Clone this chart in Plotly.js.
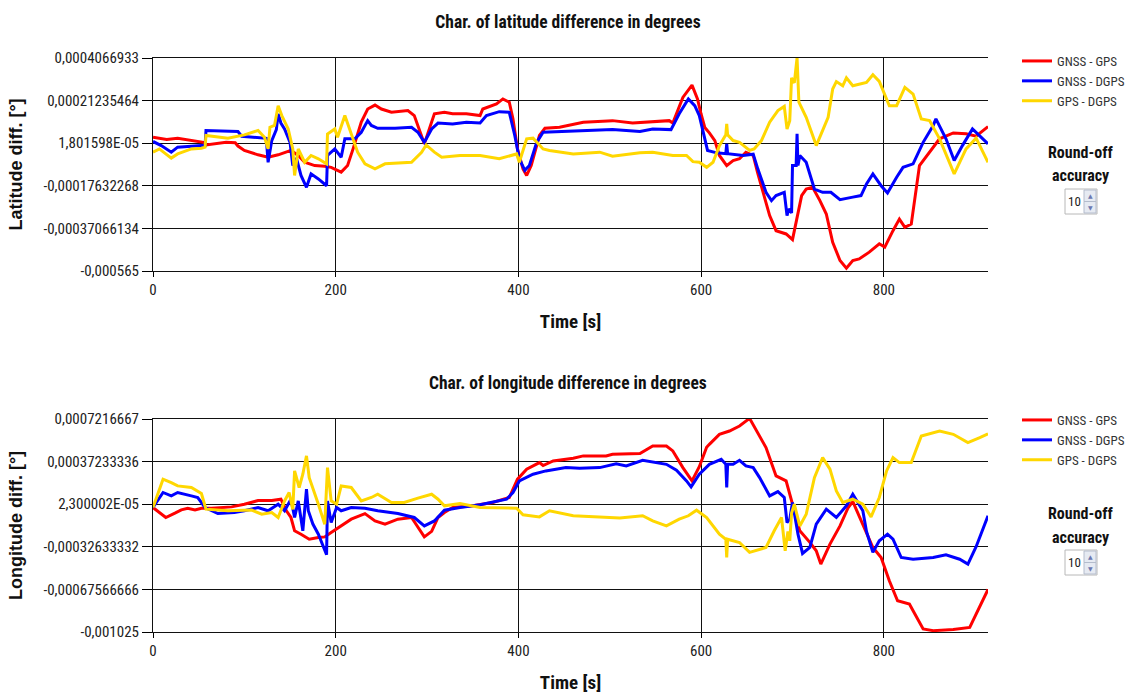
<!DOCTYPE html>
<html>
<head>
<meta charset="utf-8">
<script src="https://cdn.plot.ly/plotly-3.0.1.min.js"></script>
<style>html,body{margin:0;padding:0;background:#fff;}#chart{width:1132px;height:698px;}</style>
</head>
<body>
<div id="chart"></div>
<script>
// ---------- DATA (time in s, differences in degrees) ----------
const seriesNames = ["GNSS - GPS", "GNSS - DGPS", "GPS - DGPS"];
const seriesColors = ["#ff0000", "#0000ff", "#ffd700"];

// Latitude chart tick values / labels
const latTickVals = [4.066933e-4, 2.1235464e-4, 1.801598e-5, -1.7632268e-4, -3.7066134e-4, -5.65e-4];
const latTickText = ["0,0004066933", "0,00021235464", "1,801598E-05", "-0,00017632268", "-0,00037066134", "-0,000565"];
// Longitude chart tick values / labels
const lonTickVals = [7.216667e-4, 3.7233336e-4, 2.300002e-5, -3.2633332e-4, -6.7566666e-4, -1.025e-3];
const lonTickText = ["0,0007216667", "0,00037233336", "2,300002E-05", "-0,00032633332", "-0,00067566666", "-0,001025"];
const timeTicks = [0, 200, 400, 600, 800];

// Latitude: GNSS - GPS
const latGnssGpsT = [0,7,15,27,42,55,58,70,80,90,93,100,115,126,137,151,159,166,177,188,195,206,213,219,228,235,243,250,261,279,286,297,308,319,328,343,358,361,376,383,390,394,399,405,409,414,423,429,445,471,503,525,547,565,569,580,590,596,600,604,609,615,620,628,635,642,649,657,662,668,675,682,693,700,704,710,715,722,730,737,744,752,759,766,773,784,795,801,810,817,823,830,839,854,861,876,890,901,914];
const latGnssGpsV = [0.45e-4,0.40e-4,0.35e-4,0.41e-4,0.30e-4,0.22e-4,0.10e-4,0.15e-4,0.22e-4,0.20e-4,0.05e-4,-0.15e-4,-0.35e-4,-0.46e-4,-0.35e-4,-0.15e-4,-0.38e-4,-0.69e-4,-0.84e-4,-0.87e-4,-0.92e-4,-1.14e-4,-0.84e-4,-0.08e-4,1.14e-4,1.74e-4,1.92e-4,1.74e-4,1.59e-4,1.67e-4,1.44e-4,0.15e-4,1.52e-4,1.59e-4,1.52e-4,1.52e-4,1.44e-4,1.74e-4,1.97e-4,2.20e-4,2.05e-4,1.29e-4,-0.08e-4,-0.99e-4,-1.29e-4,-0.84e-4,0.53e-4,0.86e-4,0.91e-4,1.14e-4,1.21e-4,1.10e-4,1.17e-4,1.21e-4,1.10e-4,2.27e-4,2.83e-4,2.20e-4,1.50e-4,0.90e-4,0.65e-4,0.30e-4,-0.38e-4,-0.84e-4,-0.61e-4,-0.53e-4,-0.23e-4,-0.38e-4,-1.20e-4,-2.06e-4,-3.12e-4,-3.81e-4,-3.96e-4,-4.22e-4,-3.43e-4,-2.21e-4,-1.91e-4,-1.83e-4,-2.44e-4,-3.05e-4,-4.34e-4,-5.17e-4,-5.52e-4,-5.17e-4,-5.10e-4,-4.79e-4,-4.41e-4,-4.56e-4,-3.81e-4,-3.28e-4,-3.66e-4,-3.51e-4,-0.84e-4,0.00e-4,0.38e-4,0.65e-4,0.61e-4,0.50e-4,0.94e-4];

// Latitude: GNSS - DGPS
const latGnssDgpsT = [0,9,20,27,53,57,58,93,97,115,124,126,130,135,137,140,144,150,153,157,162,168,173,181,190,191,199,206,210,221,228,235,239,246,265,283,290,297,305,312,328,343,358,365,379,390,396,401,407,412,420,427,445,471,503,533,547,567,576,586,593,598,604,607,617,627,628,629,646,657,662,671,677,682,691,694,696,699,700,704,705,706,708,715,724,733,742,752,766,775,781,788,797,804,814,821,832,843,854,857,868,877,886,897,914];
const latGnssDgpsV = [0.26e-4,0.07e-4,-0.23e-4,0.00e-4,0.07e-4,0.07e-4,0.76e-4,0.71e-4,0.50e-4,0.45e-4,0.40e-4,-0.69e-4,0.30e-4,0.80e-4,1.52e-4,1.10e-4,0.83e-4,0.22e-4,-0.84e-4,-0.50e-4,-1.29e-4,-1.83e-4,-1.22e-4,-1.45e-4,-1.76e-4,-0.38e-4,-0.08e-4,-0.46e-4,0.38e-4,0.38e-4,0.68e-4,1.21e-4,0.99e-4,0.86e-4,0.86e-4,0.91e-4,0.68e-4,0.22e-4,0.83e-4,1.10e-4,1.06e-4,1.14e-4,1.10e-4,1.44e-4,1.62e-4,1.59e-4,0.53e-4,-0.53e-4,-1.06e-4,-0.84e-4,0.22e-4,0.68e-4,0.71e-4,0.76e-4,0.80e-4,0.71e-4,0.83e-4,0.80e-4,1.52e-4,2.20e-4,1.89e-4,1.44e-4,0.45e-4,-0.15e-4,-0.26e-4,-0.30e-4,0.15e-4,-0.30e-4,-0.38e-4,-0.32e-4,-0.99e-4,-2.06e-4,-2.44e-4,-2.21e-4,-2.06e-4,-3.12e-4,-2.82e-4,-3.00e-4,-0.84e-4,-0.84e-4,0.61e-4,-0.84e-4,-0.38e-4,-0.69e-4,-1.91e-4,-2.06e-4,-2.06e-4,-2.40e-4,-2.28e-4,-2.21e-4,-1.68e-4,-1.22e-4,-1.76e-4,-2.09e-4,-1.37e-4,-0.92e-4,-0.76e-4,0.22e-4,0.99e-4,1.29e-4,0.38e-4,-0.61e-4,0.07e-4,0.83e-4,0.15e-4];

// Latitude: GPS - DGPS
const latGpsDgpsT = [0,7,20,27,42,53,57,58,82,100,115,122,126,128,133,137,141,148,153,155,159,166,173,181,190,191,199,202,210,215,224,232,243,254,283,294,299,308,316,336,358,379,398,401,409,416,427,434,460,489,503,533,547,569,584,591,598,606,613,620,627,628,629,635,642,653,658,666,675,684,691,694,697,699,702,705,707,715,726,739,744,748,755,759,766,781,788,795,806,814,823,832,841,850,861,877,890,901,914];
const latGpsDgpsV = [-0.23e-4,-0.08e-4,-0.50e-4,-0.31e-4,-0.08e-4,-0.05e-4,0.00e-4,0.53e-4,0.41e-4,0.56e-4,0.76e-4,0.45e-4,-0.08e-4,0.91e-4,0.99e-4,1.89e-4,1.44e-4,0.83e-4,-0.08e-4,-1.29e-4,-0.08e-4,-0.69e-4,-0.38e-4,-0.53e-4,-0.76e-4,0.60e-4,0.83e-4,0.45e-4,1.44e-4,0.83e-4,-0.23e-4,-0.76e-4,-0.99e-4,-0.76e-4,-0.69e-4,-0.23e-4,0.10e-4,-0.23e-4,-0.46e-4,-0.38e-4,-0.38e-4,-0.53e-4,-0.31e-4,-0.69e-4,0.38e-4,0.41e-4,-0.08e-4,-0.15e-4,-0.31e-4,-0.23e-4,-0.41e-4,-0.26e-4,-0.23e-4,-0.38e-4,-0.38e-4,-0.66e-4,-0.69e-4,-0.92e-4,-0.69e-4,0.07e-4,0.56e-4,1.06e-4,0.56e-4,0.30e-4,0.22e-4,-0.15e-4,-0.08e-4,0.30e-4,1.14e-4,1.67e-4,1.86e-4,0.83e-4,1.21e-4,3.16e-4,2.93e-4,4.07e-4,2.05e-4,1.36e-4,0.07e-4,1.36e-4,2.65e-4,2.99e-4,2.80e-4,3.16e-4,2.80e-4,2.95e-4,3.30e-4,3.00e-4,1.89e-4,1.89e-4,2.73e-4,2.42e-4,1.29e-4,1.21e-4,0.38e-4,-1.22e-4,-0.08e-4,0.41e-4,-0.69e-4];

// Longitude: GNSS - GPS
const lonGnssGpsT = [0,7,14,24,31,38,46,53,64,86,100,115,130,140,146,151,155,162,171,181,188,195,206,217,232,243,254,268,283,290,297,305,312,319,328,350,372,390,399,409,423,427,438,460,471,496,503,533,547,562,569,580,590,598,606,609,620,631,642,653,660,671,682,693,700,708,719,726,731,741,752,761,766,777,788,797,806,815,828,832,843,854,876,894,914];
const lonGnssGpsV = [-0.04e-4,-0.45e-4,-0.86e-4,-0.50e-4,-0.23e-4,-0.10e-4,-0.25e-4,-0.10e-4,-0.10e-4,0.01e-4,0.23e-4,0.53e-4,0.53e-4,0.64e-4,-0.31e-4,-0.86e-4,-1.95e-4,-2.23e-4,-2.64e-4,-2.50e-4,-2.45e-4,-2.09e-4,-1.55e-4,-1.00e-4,-0.54e-4,-1.14e-4,-1.41e-4,-1.00e-4,-0.86e-4,-1.68e-4,-2.45e-4,-2.00e-4,-0.86e-4,-0.45e-4,-0.04e-4,0.10e-4,0.37e-4,0.78e-4,2.28e-4,3.10e-4,3.64e-4,3.40e-4,3.78e-4,4.00e-4,4.19e-4,4.19e-4,4.33e-4,4.38e-4,5.00e-4,5.00e-4,4.60e-4,3.23e-4,2.14e-4,3.30e-4,4.90e-4,5.14e-4,5.96e-4,6.23e-4,6.64e-4,7.27e-4,6.37e-4,4.87e-4,2.55e-4,2.14e-4,0.23e-4,-1.95e-4,-2.90e-4,-3.59e-4,-4.68e-4,-3.04e-4,-1.55e-4,-0.04e-4,0.45e-4,-1.41e-4,-3.32e-4,-4.14e-4,-6.05e-4,-7.69e-4,-7.96e-4,-8.50e-4,-10.00e-4,-10.14e-4,-10.05e-4,-9.87e-4,-6.76e-4];

// Longitude: GNSS - DGPS
const lonGnssDgpsT = [0,11,20,27,42,49,57,71,89,100,115,126,137,144,151,155,159,164,168,170,175,181,190,191,195,201,206,217,232,246,268,286,297,308,319,336,358,387,394,401,416,430,452,467,489,507,518,536,562,573,584,589,598,609,622,627,628,629,635,642,649,657,664,675,684,691,694,697,700,704,706,711,719,726,737,748,759,766,777,781,788,795,804,810,819,832,854,868,883,892,901,914];
const lonGnssDgpsV = [-0.04e-4,1.19e-4,0.91e-4,1.19e-4,0.91e-4,0.78e-4,-0.04e-4,-0.54e-4,-0.45e-4,-0.31e-4,-0.04e-4,-0.31e-4,0.23e-4,-0.31e-4,0.64e-4,-0.86e-4,0.50e-4,-1.95e-4,1.46e-4,-0.31e-4,-1.40e-4,-2.23e-4,-3.92e-4,0.50e-4,-1.27e-4,-0.04e-4,-0.31e-4,-0.04e-4,-0.10e-4,-0.31e-4,-0.54e-4,-0.86e-4,-1.55e-4,-1.14e-4,-0.26e-4,-0.04e-4,0.18e-4,0.64e-4,1.19e-4,2.14e-4,2.69e-4,2.96e-4,3.23e-4,3.18e-4,3.23e-4,3.55e-4,3.37e-4,3.83e-4,3.50e-4,3.01e-4,2.14e-4,1.65e-4,2.69e-4,3.50e-4,3.91e-4,3.50e-4,1.60e-4,3.50e-4,3.50e-4,3.83e-4,3.37e-4,3.23e-4,2.41e-4,0.91e-4,1.26e-4,0.78e-4,-1.27e-4,-1.00e-4,0.37e-4,-1.41e-4,-2.23e-4,-3.81e-4,-3.32e-4,-1.41e-4,-0.18e-4,-0.86e-4,0.10e-4,1.05e-4,-0.31e-4,-2.00e-4,-3.72e-4,-2.77e-4,-2.23e-4,-2.64e-4,-4.14e-4,-4.28e-4,-4.14e-4,-3.92e-4,-4.28e-4,-4.68e-4,-3.26e-4,-0.72e-4];

// Longitude: GPS - DGPS
const lonGpsDgpsT = [0,11,20,27,42,53,58,82,108,119,130,137,144,149,153,155,160,164,168,171,181,188,191,195,201,206,217,228,239,246,261,275,290,305,312,319,336,358,398,405,423,434,460,489,511,536,547,562,576,586,595,606,609,620,627,628,629,642,653,664,671,680,688,692,695,697,699,702,708,715,724,733,741,748,755,766,777,786,795,803,810,817,830,841,861,876,892,905,914];
const lonGpsDgpsV = [-0.04e-4,2.28e-4,2.00e-4,1.73e-4,1.60e-4,1.10e-4,-0.18e-4,-0.31e-4,-0.25e-4,-0.59e-4,-0.45e-4,-0.86e-4,0.50e-4,1.19e-4,-0.20e-4,2.96e-4,1.60e-4,2.69e-4,4.19e-4,2.41e-4,0.23e-4,-1.41e-4,3.23e-4,0.50e-4,0.23e-4,1.73e-4,1.60e-4,0.50e-4,0.78e-4,1.05e-4,0.37e-4,0.37e-4,0.73e-4,1.05e-4,0.64e-4,0.10e-4,0.28e-4,-0.04e-4,-0.10e-4,-0.64e-4,-0.81e-4,-0.31e-4,-0.72e-4,-0.86e-4,-0.91e-4,-0.72e-4,-1.14e-4,-1.55e-4,-1.00e-4,-0.72e-4,-0.26e-4,-0.86e-4,-1.14e-4,-2.23e-4,-2.64e-4,-4.14e-4,-2.64e-4,-2.91e-4,-3.72e-4,-3.45e-4,-3.32e-4,-1.95e-4,-0.86e-4,-3.59e-4,-2.00e-4,-2.77e-4,-0.50e-4,0.23e-4,-1.55e-4,-0.59e-4,2.41e-4,4.05e-4,3.10e-4,1.32e-4,0.37e-4,0.64e-4,0.23e-4,-0.81e-4,0.78e-4,2.96e-4,4.05e-4,3.64e-4,3.64e-4,5.82e-4,6.23e-4,5.96e-4,5.28e-4,5.69e-4,6.00e-4];

// ---------- LAYOUT ----------
const W = 1132, H = 698;
const px = x => x / W;
const py = y => 1 - y / H;
const NARROW = "Liberation Sans Narrow, Arial Narrow, Roboto Condensed, DejaVu Sans Condensed, sans-serif";
const WIDE = "Liberation Sans, Arial, sans-serif";

function trace(x, y, i, xa, ya, leg) {
  return {
    type: "scatter", mode: "lines", x: x, y: y, name: seriesNames[i],
    xaxis: xa, yaxis: ya, legend: leg, showlegend: true,
    line: { color: seriesColors[i], width: 3 }
  };
}

const data = [
  trace(latGnssGpsT, latGnssGpsV, 0, "x", "y", "legend"),
  trace(latGnssDgpsT, latGnssDgpsV, 1, "x", "y", "legend"),
  trace(latGpsDgpsT, latGpsDgpsV, 2, "x", "y", "legend"),
  trace(lonGnssGpsT, lonGnssGpsV, 0, "x2", "y2", "legend2"),
  trace(lonGnssDgpsT, lonGnssDgpsV, 1, "x2", "y2", "legend2"),
  trace(lonGpsDgpsT, lonGpsDgpsV, 2, "x2", "y2", "legend2")
];

function xAxis(anchor) {
  return {
    anchor: anchor, domain: [px(153), px(988)], range: [0, 914],
    tickvals: timeTicks, ticktext: timeTicks.map(String),
    ticks: "outside", ticklen: 5, tickcolor: "#000", tickwidth: 1,
    showgrid: true, gridcolor: "#111", gridwidth: 1,
    showline: true, linecolor: "#111", linewidth: 1, mirror: true,
    zeroline: false, automargin: false,
    tickfont: { family: NARROW, size: 15, color: "#222" },
    title: { text: "Time [s]", standoff: 16, font: { family: NARROW, size: 19, color: "#111", weight: "bold" } }
  };
}
function yAxis(anchor, dom, range, vals, text, title) {
  return {
    anchor: anchor, domain: dom, range: range,
    tickvals: vals, ticktext: text,
    ticks: "outside", ticklen: 10, tickcolor: "#000", tickwidth: 1,
    showgrid: true, gridcolor: "#111", gridwidth: 1,
    showline: true, linecolor: "#111", linewidth: 1,
    zeroline: false, automargin: false,
    tickfont: { family: NARROW, size: 15, color: "#222" },
    title: { text: title, standoff: 16, font: { family: WIDE, size: 18, color: "#111", weight: "bold" } }
  };
}

const legendCommon = {
  xanchor: "left", yanchor: "top", bgcolor: "rgba(0,0,0,0)", borderwidth: 0,
  font: { family: NARROW, size: 13, color: "#333" }, tracegroupgap: 0, itemwidth: 30
};

const shapes = [];
const annotations = [];

// bottom chart title
annotations.push({
  xref: "paper", yref: "paper", x: px(568), y: py(383), xanchor: "center", yanchor: "middle",
  showarrow: false, text: "Char. of longitude difference in degrees",
  font: { family: NARROW, size: 17.5, color: "#111", weight: "bold" }
});

// Round-off accuracy widgets
function roundOff(yLine1, yLine2, boxTop) {
  annotations.push({ xref: "paper", yref: "paper", x: px(1080), y: py(yLine1), xanchor: "center", yanchor: "middle",
    showarrow: false, text: "Round-off", font: { family: NARROW, size: 16, color: "#111", weight: "bold" } });
  annotations.push({ xref: "paper", yref: "paper", x: px(1080), y: py(yLine2), xanchor: "center", yanchor: "middle",
    showarrow: false, text: "accuracy", font: { family: NARROW, size: 16, color: "#111", weight: "bold" } });
  const b = boxTop, h = 25;
  shapes.push({ type: "rect", xref: "paper", yref: "paper", x0: px(1065), x1: px(1097), y0: py(b + h), y1: py(b),
    line: { color: "#b8b8b8", width: 1 }, fillcolor: "#ffffff" });
  shapes.push({ type: "rect", xref: "paper", yref: "paper", x0: px(1084), x1: px(1096), y0: py(b + h / 2), y1: py(b + 1),
    line: { color: "#b4bccc", width: 1 }, fillcolor: "#e6eaf2" });
  shapes.push({ type: "rect", xref: "paper", yref: "paper", x0: px(1084), x1: px(1096), y0: py(b + h - 1), y1: py(b + h / 2),
    line: { color: "#b4bccc", width: 1 }, fillcolor: "#e6eaf2" });
  annotations.push({ xref: "paper", yref: "paper", x: px(1074), y: py(b + h / 2), xanchor: "center", yanchor: "middle",
    showarrow: false, text: "10", font: { family: NARROW, size: 13, color: "#222" } });
  annotations.push({ xref: "paper", yref: "paper", x: px(1090), y: py(b + 6.5), xanchor: "center", yanchor: "middle",
    showarrow: false, text: "▲", font: { family: "DejaVu Sans", size: 6, color: "#6a78b0" } });
  annotations.push({ xref: "paper", yref: "paper", x: px(1090), y: py(b + 18.5), xanchor: "center", yanchor: "middle",
    showarrow: false, text: "▼", font: { family: "DejaVu Sans", size: 6, color: "#6a78b0" } });
}
roundOff(152, 175, 189);
roundOff(513, 537, 550);

const layout = {
  width: W, height: H,
  margin: { l: 0, r: 0, t: 0, b: 0 },
  paper_bgcolor: "#ffffff", plot_bgcolor: "#ffffff",
  title: { text: "Char. of latitude difference in degrees", x: px(568), y: py(22), xanchor: "center", yanchor: "middle",
    xref: "paper", yref: "paper", font: { family: NARROW, size: 17.5, color: "#111", weight: "bold" } },
  xaxis: xAxis("y"),
  yaxis: yAxis("x", [py(271), py(58)], [-5.65e-4, 4.066933e-4], latTickVals, latTickText, "Latitude diff. [°]"),
  xaxis2: xAxis("y2"),
  yaxis2: yAxis("x2", [py(632), py(419)], [-10.25e-4, 7.216667e-4], lonTickVals, lonTickText, "Longitude diff. [°]"),
  legend: Object.assign({ x: px(1017), y: py(46) }, legendCommon),
  legend2: Object.assign({ x: px(1017), y: py(405) }, legendCommon),
  shapes: shapes,
  annotations: annotations,
  showlegend: true
};

Plotly.newPlot("chart", data, layout, { staticPlot: true, displayModeBar: false });
</script>
</body>
</html>
